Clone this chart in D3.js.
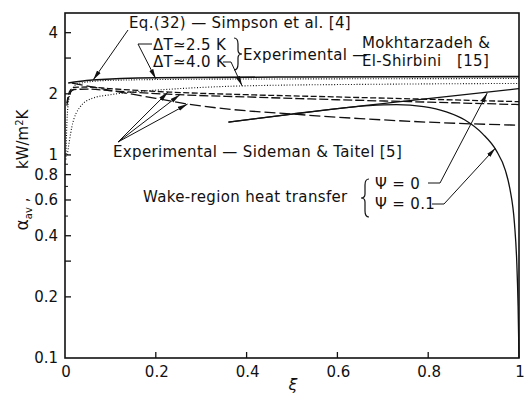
<!DOCTYPE html>
<html>
<head>
<meta charset="utf-8">
<script src="https://cdn.jsdelivr.net/npm/d3@7"></script>
<style>
  body { margin: 0; background: #fff; }
  text { font-family: "DejaVu Sans", sans-serif; fill: #111; }
</style>
</head>
<body>
<div id="chart"></div>
<script>
// ---- data (xi, alpha in kW/m2K) ----
var simpson  = [[0.007, 2.26], [0.03, 2.3], [0.06, 2.34], [0.2, 2.4], [0.5, 2.42], [1.0, 2.43]];
var mokh25   = [[0.002, 0.95], [0.004, 1.4], [0.008, 1.85], [0.015, 2.1], [0.03, 2.25], [0.1, 2.33], [0.3, 2.36], [0.6, 2.37], [1.0, 2.38]];
var mokh40   = [[0.005, 1.0], [0.015, 1.37], [0.033, 1.72], [0.06, 1.9], [0.1, 1.98], [0.15, 2.04], [0.25, 2.12], [0.4, 2.19], [0.7, 2.23], [1.0, 2.25]];
var sideman1 = [[0.004, 1.8], [0.01, 2.05], [0.02, 2.15], [0.05, 2.16], [0.1, 2.12], [0.23, 2.04], [0.4, 1.98], [0.6, 1.93], [0.8, 1.88], [1.0, 1.83]];
var sideman2 = [[0.004, 1.75], [0.01, 2.0], [0.02, 2.1], [0.05, 2.11], [0.1, 2.07], [0.25, 1.98], [0.4, 1.93], [0.6, 1.87], [0.8, 1.82], [1.0, 1.77]];
var sideman3 = [[0.015, 2.26], [0.1, 2.08], [0.2, 1.9], [0.27, 1.78], [0.35, 1.69], [0.5, 1.59], [0.65, 1.51], [0.8, 1.45], [1.0, 1.4]];
var wakePsi0  = [[0.36, 1.45], [0.5, 1.59], [0.6, 1.69], [0.7, 1.79], [0.85, 1.95], [1.0, 2.12]];
var wakePsi01 = [[0.36, 1.45], [0.5, 1.59], [0.6, 1.69], [0.67, 1.75], [0.73, 1.77], [0.79, 1.73], [0.84, 1.63], [0.88, 1.49], [0.92, 1.27], [0.95, 1.05], [0.97, 0.84], [0.98, 0.68], [0.99, 0.46], [0.995, 0.3], [0.998, 0.18], [1.0, 0.1]];

var xTicks = [0, 0.2, 0.4, 0.6, 0.8, 1];
var yTicks = [0.1, 0.2, 0.4, 0.6, 0.8, 1, 2, 4];
var yMidTicks = [0.3, 3];
var yMinorTicks = [0.5, 0.7, 0.9];

var W = 526, H = 395;
var svg = d3.select('#chart').append('svg')
  .attr('width', W).attr('height', H);

var x = d3.scaleLinear().domain([0, 1]).range([65, 519]);
var y = d3.scaleLog().domain([0.1, 5]).range([358, 13]);

// frame
svg.append('rect')
  .attr('x', x(0)).attr('y', y(5))
  .attr('width', x(1) - x(0)).attr('height', y(0.1) - y(5))
  .attr('fill', 'none').attr('stroke', '#111').attr('stroke-width', 1.6);

// ticks (inward)
svg.selectAll('.xt').data(xTicks.slice(1, -1)).enter().append('line')
  .attr('x1', d => x(d)).attr('x2', d => x(d))
  .attr('y1', y(0.1)).attr('y2', y(0.1) - 6)
  .attr('stroke', '#111').attr('stroke-width', 1.3);
svg.selectAll('.yt').data(yTicks.slice(1).concat(yMidTicks)).enter().append('line')
  .attr('x1', x(0)).attr('x2', x(0) + 6)
  .attr('y1', d => y(d)).attr('y2', d => y(d))
  .attr('stroke', '#111').attr('stroke-width', 1.3);
svg.selectAll('.ym').data(yMinorTicks).enter().append('line')
  .attr('x1', x(0)).attr('x2', x(0) + 3)
  .attr('y1', d => y(d)).attr('y2', d => y(d))
  .attr('stroke', '#111').attr('stroke-width', 1);

// tick labels
svg.selectAll('.xl').data(xTicks).enter().append('text')
  .attr('x', d => x(d) + 1).attr('y', 377)
  .attr('text-anchor', 'middle').attr('font-size', 15)
  .text(d => d === 0 || d === 1 ? d : d.toFixed(1));
svg.selectAll('.yl').data(yTicks).enter().append('text')
  .attr('x', 58).attr('y', d => y(d)).attr('dy', '0.36em')
  .attr('text-anchor', 'end').attr('font-size', 15)
  .text(d => d);

// axis titles
svg.append('text').attr('x', 293).attr('y', 390)
  .attr('text-anchor', 'middle').attr('font-size', 16).attr('font-style', 'italic')
  .text('ξ');
var yt = svg.append('text')
  .attr('transform', 'translate(28,170) rotate(-90)')
  .attr('text-anchor', 'middle').attr('font-size', 15);
yt.append('tspan').attr('font-size', 17).text('α');
yt.append('tspan').attr('font-size', 10).attr('dy', 4).text('av');
yt.append('tspan').attr('dy', -4).text('\u00a0,\u00a0\u00a0\u00a0\u00a0\u00a0 kW/m');
yt.append('tspan').attr('font-size', 10).attr('dy', -5).text('2');
yt.append('tspan').attr('dy', 5).text('K');

// curves
var line = d3.line().x(d => x(d[0])).y(d => y(d[1])).curve(d3.curveMonotoneX);
var curves = [
  {data: simpson,   dash: null,    w: 1.6},
  {data: mokh25,    dash: '1,1.6', w: 1.1},
  {data: mokh40,    dash: '1,1.8', w: 1.1},
  {data: sideman1,  dash: '6,2.5', w: 1.3},
  {data: sideman2,  dash: '9,3',   w: 1.3},
  {data: sideman3,  dash: '11,4',  w: 1.3},
  {data: wakePsi0,  dash: null,    w: 1.3},
  {data: wakePsi01, dash: null,    w: 1.3}
];
svg.selectAll('.curve').data(curves).enter().append('path')
  .attr('d', d => line(d.data))
  .attr('fill', 'none').attr('stroke', '#111')
  .attr('stroke-width', d => d.w)
  .attr('stroke-dasharray', d => d.dash);

// arrowhead
svg.append('defs').append('marker')
  .attr('id', 'arr').attr('viewBox', '0 -3 10 6')
  .attr('refX', 10).attr('refY', 0)
  .attr('markerWidth', 10).attr('markerHeight', 6)
  .attr('markerUnits', 'userSpaceOnUse').attr('orient', 'auto')
  .append('path').attr('d', 'M0,-2.2L10,0L0,2.2Z').attr('fill', '#111');

// leader lines: pixel tail points, tip on the curve in data units
var leaders = [
  {pts: [[128, 30]], tip: [0.062, 2.34]},
  {pts: [[152, 44], [138, 44]], tip: [0.2, 2.37]},
  {pts: [[223, 62], [231, 62]], tip: [0.39, 2.19]},
  {pts: [[118, 142]], tip: [0.227, 2.04]},
  {pts: [[118, 142]], tip: [0.253, 1.98]},
  {pts: [[118, 142]], tip: [0.27, 1.78]},
  {pts: [[428, 183], [440, 183]], tip: [0.93, 2.02]},
  {pts: [[432, 204], [444, 204]], tip: [0.948, 1.08]}
];
svg.selectAll('.lead').data(leaders).enter().append('path')
  .attr('d', d => d3.line()(d.pts.concat([[x(d.tip[0]), y(d.tip[1])]])))
  .attr('fill', 'none').attr('stroke', '#111').attr('stroke-width', 1)
  .attr('marker-end', 'url(#arr)');

// braces
function brace(x0, y0, y1, dir) {
  var m = (y0 + y1) / 2, w = 4 * dir;
  return 'M' + x0 + ',' + y0 + ' Q' + (x0 + w) + ',' + y0 + ' ' + (x0 + w) + ',' + (y0 + 6) +
    ' L' + (x0 + w) + ',' + (m - 4) + ' Q' + (x0 + w) + ',' + m + ' ' + (x0 + 2 * w) + ',' + m +
    ' Q' + (x0 + w) + ',' + m + ' ' + (x0 + w) + ',' + (m + 4) +
    ' L' + (x0 + w) + ',' + (y1 - 6) + ' Q' + (x0 + w) + ',' + y1 + ' ' + x0 + ',' + y1;
}
svg.append('path').attr('d', brace(234, 38, 70, 1))
  .attr('fill', 'none').attr('stroke', '#111').attr('stroke-width', 1.2);
svg.append('path').attr('d', brace(369, 179, 217, -1))
  .attr('fill', 'none').attr('stroke', '#111').attr('stroke-width', 1.2);

// annotation texts
var notes = [
  ['Eq.(32) — Simpson et al. [4]', 129, 28],
  ['ΔT≃2.5 K', 153, 50],
  ['ΔT≃4.0 K', 153, 67],
  ['Experimental —', 243, 60],
  ['Mokhtarzadeh &', 362, 48],
  ['El-Shirbini\u00a0\u00a0 [15]', 362, 66],
  ['Experimental — Sideman & Taitel [5]', 113, 157],
  ['Wake-region heat transfer', 143, 202],
  ['Ψ = 0', 375, 189],
  ['Ψ = 0.1', 375, 209]
];
svg.selectAll('.note').data(notes).enter().append('text')
  .attr('x', d => d[1]).attr('y', d => d[2])
  .attr('font-size', 15).attr('letter-spacing', 0.35)
  .text(d => d[0]);
</script>
</body>
</html>
